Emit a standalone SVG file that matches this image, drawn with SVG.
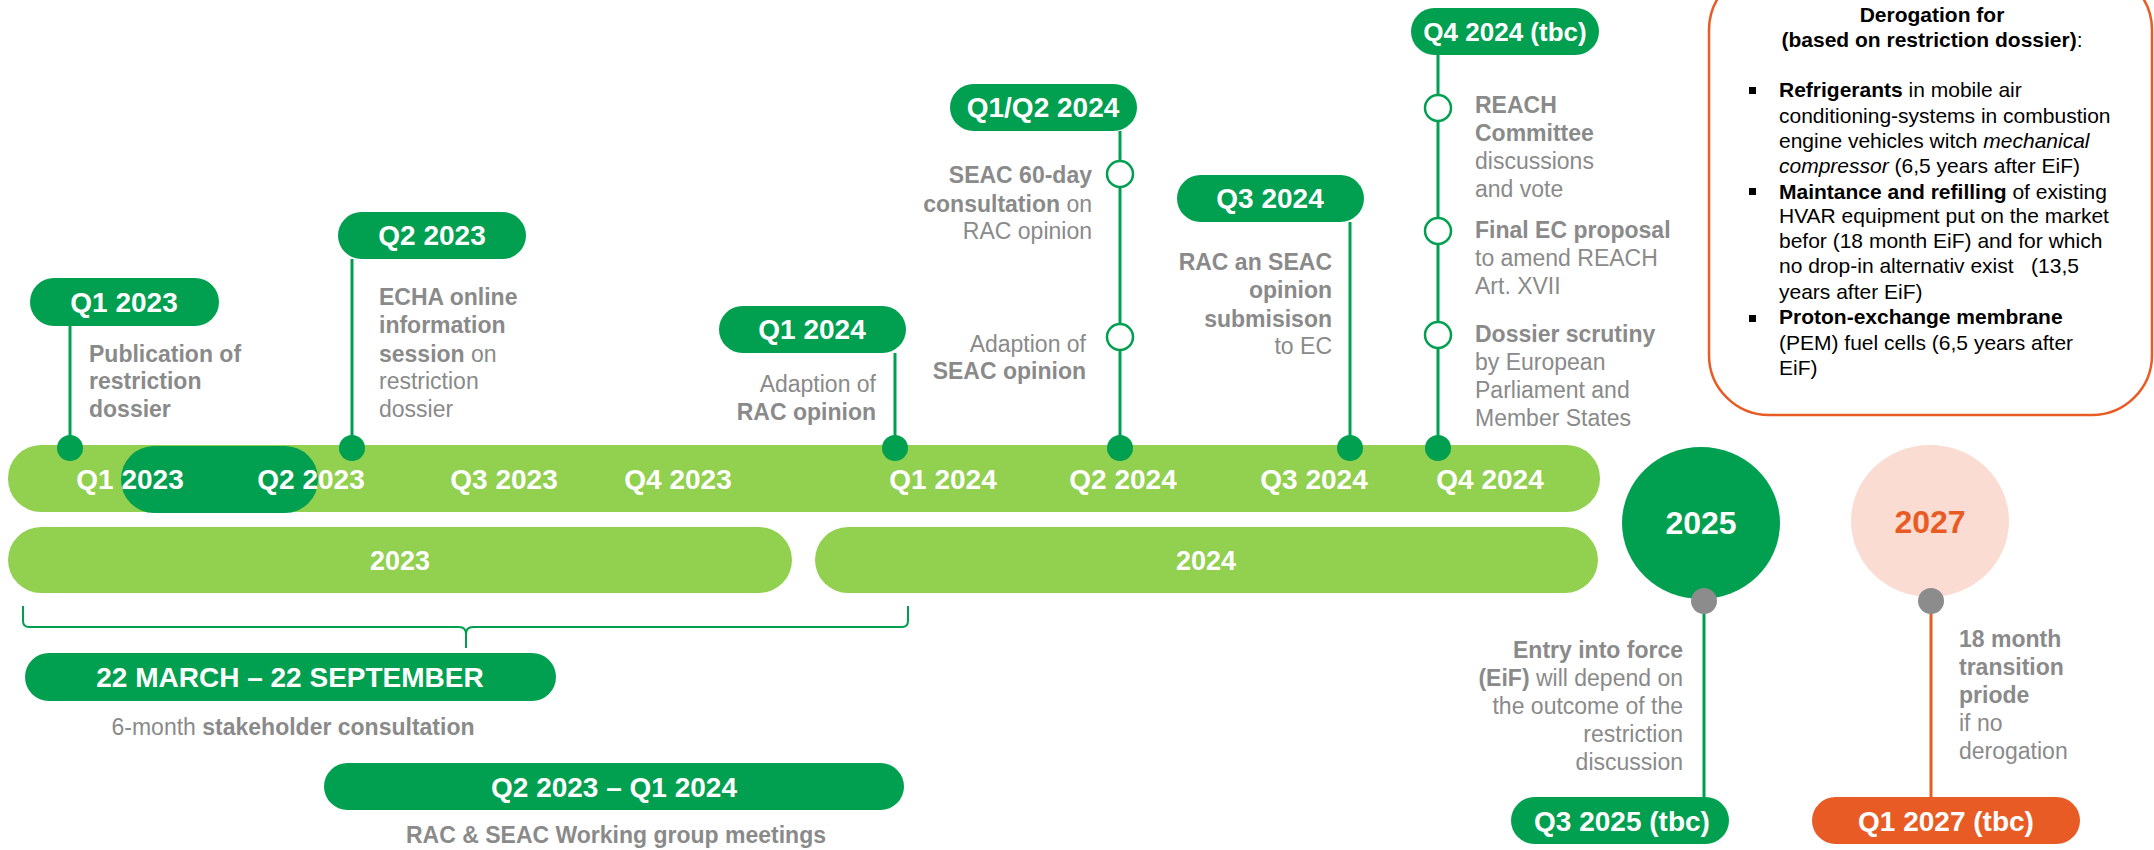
<svg xmlns="http://www.w3.org/2000/svg" width="2154" height="850" viewBox="0 0 2154 850">
  <style>
    text { font-family: "Liberation Sans", Arial, sans-serif; }
    .bar { fill: #92D050; }
    .pill { fill: #00A050; }
    .pill-o { fill: #E95B24; }
    .lbl { fill: #FFFFFF; font-weight: bold; font-size: 28px; text-anchor: middle; }
    .desc { fill: #8A8A8A; font-size: 23px; }
    .b { font-weight: bold; }
    .end { text-anchor: end; }
    .mid { text-anchor: middle; }
    .dot { fill: #00A050; }
    .ring { fill: #FFFFFF; stroke: #00A050; stroke-width: 2.5; }
    .conn { stroke: #00A050; stroke-width: 3; fill: none; }
    .conn-o { stroke: #E95B24; stroke-width: 3; fill: none; }
    .gdot { fill: #8C8C8C; }
    .der { fill: #000000; font-size: 21px; }
  </style>

  <!-- timeline bars -->
  <g id="timeline">
    <rect class="bar" x="8" y="445" width="1592" height="67" rx="33"/>
    <rect x="121" y="446" width="197" height="67" rx="33" fill="#00A050"/>
    <text class="lbl" x="130" y="489">Q1 2023</text>
    <text class="lbl" x="311" y="489">Q2 2023</text>
    <text class="lbl" x="504" y="489">Q3 2023</text>
    <text class="lbl" x="678" y="489">Q4 2023</text>
    <text class="lbl" x="943" y="489">Q1 2024</text>
    <text class="lbl" x="1123" y="489">Q2 2024</text>
    <text class="lbl" x="1314" y="489">Q3 2024</text>
    <text class="lbl" x="1490" y="489">Q4 2024</text>
  </g>
  <g id="year-2023">
    <rect class="bar" x="8" y="527" width="784" height="66" rx="33"/>
    <text class="lbl" x="400" y="570" style="font-size:27px">2023</text>
  </g>
  <g id="year-2024">
    <rect class="bar" x="815" y="527" width="783" height="66" rx="33"/>
    <text class="lbl" x="1206" y="570" style="font-size:27px">2024</text>
  </g>

  <!-- connectors -->
  <g id="connectors">
    <line class="conn" x1="70" y1="326" x2="70" y2="448"/>
    <line class="conn" x1="352" y1="259" x2="352" y2="448"/>
    <line class="conn" x1="895" y1="353" x2="895" y2="448"/>
    <line class="conn" x1="1120" y1="131" x2="1120" y2="448"/>
    <line class="conn" x1="1350" y1="222" x2="1350" y2="448"/>
    <line class="conn" x1="1438" y1="55" x2="1438" y2="448"/>
    <line class="conn" x1="1704" y1="601" x2="1704" y2="797"/>
    <line class="conn-o" x1="1931" y1="601" x2="1931" y2="797"/>
    <path class="conn" style="stroke-width:2" d="M23,606 L23,621 Q23,627 29,627 L459,627 Q466,627 466,634 L466,648 M466,634 Q466,627 473,627 L902,627 Q908,627 908,621 L908,606"/>
  </g>

  <!-- Q1 2023 -->
  <g id="q1-2023">
    <circle class="dot" cx="70" cy="448" r="13"/>
    <rect class="pill" x="30" y="278" width="189" height="48" rx="24"/>
    <text class="lbl" x="124" y="312">Q1 2023</text>
    <text class="desc b" x="89" y="362">Publication of</text>
    <text class="desc b" x="89" y="389">restriction</text>
    <text class="desc b" x="89" y="417">dossier</text>
  </g>

  <!-- Q2 2023 -->
  <g id="q2-2023">
    <circle class="dot" cx="352" cy="448" r="13"/>
    <rect class="pill" x="338" y="212" width="188" height="47" rx="23.5"/>
    <text class="lbl" x="432" y="245">Q2 2023</text>
    <text class="desc b" x="379" y="305">ECHA online</text>
    <text class="desc b" x="379" y="333">information</text>
    <text class="desc" x="379" y="362"><tspan class="b">session</tspan> on</text>
    <text class="desc" x="379" y="389">restriction</text>
    <text class="desc" x="379" y="417">dossier</text>
  </g>

  <!-- Q1 2024 -->
  <g id="q1-2024">
    <circle class="dot" cx="895" cy="448" r="13"/>
    <rect class="pill" x="719" y="306" width="187" height="47" rx="23.5"/>
    <text class="lbl" x="812" y="339">Q1 2024</text>
    <text class="desc end" x="876" y="392">Adaption of</text>
    <text class="desc b end" x="876" y="420">RAC opinion</text>
  </g>

  <!-- Q1/Q2 2024 -->
  <g id="q1q2-2024">
    <circle class="dot" cx="1120" cy="448" r="13"/>
    <circle class="ring" cx="1120" cy="174" r="13"/>
    <circle class="ring" cx="1120" cy="337" r="13"/>
    <rect class="pill" x="950" y="84" width="187" height="47" rx="23.5"/>
    <text class="lbl" x="1043" y="117">Q1/Q2 2024</text>
    <text class="desc b end" x="1092" y="183">SEAC 60-day</text>
    <text class="desc end" x="1092" y="212"><tspan class="b">consultation</tspan> on</text>
    <text class="desc end" x="1092" y="239">RAC opinion</text>
    <text class="desc end" x="1086" y="352">Adaption of</text>
    <text class="desc b end" x="1086" y="379">SEAC opinion</text>
  </g>

  <!-- Q3 2024 -->
  <g id="q3-2024">
    <circle class="dot" cx="1350" cy="448" r="13"/>
    <rect class="pill" x="1177" y="175" width="187" height="47" rx="23.5"/>
    <text class="lbl" x="1270" y="208">Q3 2024</text>
    <text class="desc b end" x="1332" y="270">RAC an SEAC</text>
    <text class="desc b end" x="1332" y="298">opinion</text>
    <text class="desc b end" x="1332" y="327">submisison</text>
    <text class="desc end" x="1332" y="354">to EC</text>
  </g>

  <!-- Q4 2024 -->
  <g id="q4-2024">
    <circle class="dot" cx="1438" cy="448" r="13"/>
    <circle class="ring" cx="1438" cy="108" r="13"/>
    <circle class="ring" cx="1438" cy="231" r="13"/>
    <circle class="ring" cx="1438" cy="335" r="13"/>
    <rect class="pill" x="1411" y="8" width="188" height="47" rx="23.5"/>
    <text class="lbl" x="1505" y="41" style="font-size:26px">Q4 2024 (tbc)</text>
    <text class="desc b" x="1475" y="113">REACH</text>
    <text class="desc b" x="1475" y="141">Committee</text>
    <text class="desc" x="1475" y="169">discussions</text>
    <text class="desc" x="1475" y="197">and vote</text>
    <text class="desc b" x="1475" y="238">Final EC proposal</text>
    <text class="desc" x="1475" y="266">to amend REACH</text>
    <text class="desc" x="1475" y="294">Art. XVII</text>
    <text class="desc b" x="1475" y="342">Dossier scrutiny</text>
    <text class="desc" x="1475" y="370">by European</text>
    <text class="desc" x="1475" y="398">Parliament and</text>
    <text class="desc" x="1475" y="426">Member States</text>
  </g>

  <!-- derogation box -->
  <g id="derogation">
    <rect x="1709" y="-30" width="443" height="445" rx="60" fill="#FFFFFF" stroke="#E95B24" stroke-width="2.5"/>
    <text class="der b mid" x="1932" y="22">Derogation for</text>
    <text class="der mid" x="1932" y="47"><tspan class="b">(based on restriction dossier)</tspan>:</text>
    <rect x="1749" y="87" width="7" height="7" fill="#000000"/>
    <rect x="1749" y="188" width="7" height="7" fill="#000000"/>
    <rect x="1749" y="315" width="7" height="7" fill="#000000"/>
    <text class="der" x="1779" y="97"><tspan class="b">Refrigerants</tspan> in mobile air</text>
    <text class="der" x="1779" y="123">conditioning-systems in combustion</text>
    <text class="der" x="1779" y="148">engine vehicles witch <tspan font-style="italic">mechanical</tspan></text>
    <text class="der" x="1779" y="173"><tspan font-style="italic">compressor</tspan> (6,5 years after EiF)</text>
    <text class="der" x="1779" y="199"><tspan class="b">Maintance and refilling</tspan> of existing</text>
    <text class="der" x="1779" y="223">HVAR equipment put on the market</text>
    <text class="der" x="1779" y="248">befor (18 month EiF) and for which</text>
    <text class="der" x="1779" y="273" xml:space="preserve">no drop-in alternativ exist   (13,5</text>
    <text class="der" x="1779" y="299">years after EiF)</text>
    <text class="der b" x="1779" y="324">Proton-exchange membrane</text>
    <text class="der" x="1779" y="350">(PEM) fuel cells (6,5 years after</text>
    <text class="der" x="1779" y="375">EiF)</text>
  </g>

  <!-- 2025 -->
  <g id="y2025">
    <ellipse cx="1701" cy="523" rx="79" ry="76" fill="#00A050"/>
    <text class="lbl" x="1701" y="534" style="font-size:32px">2025</text>
    <circle class="gdot" cx="1704" cy="601" r="13"/>
    <rect class="pill" x="1511" y="797" width="218" height="47" rx="23.5"/>
    <text class="lbl" x="1622" y="831">Q3 2025 (tbc)</text>
    <text class="desc b end" x="1683" y="658">Entry into force</text>
    <text class="desc end" x="1683" y="686"><tspan class="b">(EiF)</tspan> will depend on</text>
    <text class="desc end" x="1683" y="714">the outcome of the</text>
    <text class="desc end" x="1683" y="742">restriction</text>
    <text class="desc end" x="1683" y="770">discussion</text>
  </g>

  <!-- 2027 -->
  <g id="y2027">
    <ellipse cx="1930" cy="521" rx="79" ry="76" fill="#FADCD2"/>
    <text class="lbl" x="1930" y="533" style="font-size:32px;fill:#E95B24">2027</text>
    <circle class="gdot" cx="1931" cy="601" r="13"/>
    <rect class="pill-o" x="1812" y="797" width="268" height="47" rx="23.5"/>
    <text class="lbl" x="1946" y="831">Q1 2027 (tbc)</text>
    <text class="desc b" x="1959" y="647">18 month</text>
    <text class="desc b" x="1959" y="675">transition</text>
    <text class="desc b" x="1959" y="703">priode</text>
    <text class="desc" x="1959" y="731">if no</text>
    <text class="desc" x="1959" y="759">derogation</text>
  </g>

  <!-- consultation -->
  <g id="consultation">
    <rect class="pill" x="25" y="653" width="531" height="48" rx="24"/>
    <text class="lbl" x="290" y="687">22 MARCH – 22 SEPTEMBER</text>
    <text class="desc mid" x="293" y="735">6-month <tspan class="b">stakeholder consultation</tspan></text>
  </g>

  <!-- working groups -->
  <g id="working-groups">
    <rect class="pill" x="324" y="763" width="580" height="47" rx="23.5"/>
    <text class="lbl" x="614" y="797">Q2 2023 – Q1 2024</text>
    <text class="desc b mid" x="616" y="843">RAC &amp; SEAC Working group meetings</text>
  </g>
</svg>
